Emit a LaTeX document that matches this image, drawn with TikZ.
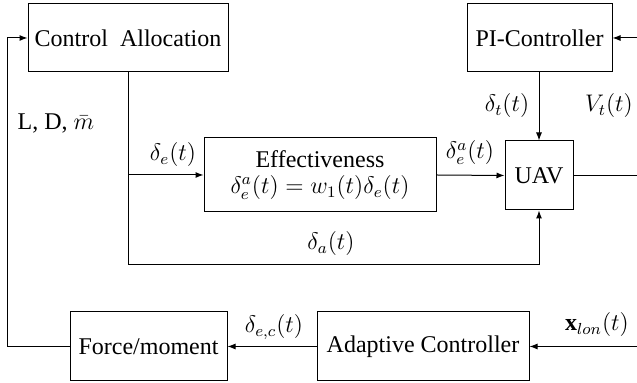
\documentclass[tikz,border=0pt]{standalone}
\usepackage{fontspec}
\setmainfont{Liberation Serif}[Ligatures=TeX]
\usetikzlibrary{arrows.meta}
\begin{document}
\begin{tikzpicture}[x=0.5pt,y=-0.5pt,
  font=\rmfamily\fontsize{12}{14}\selectfont,
  blk/.style={draw,line width=0.5pt,inner sep=0pt,align=center},
  conn/.style={line width=0.5pt},
  arr/.style={conn,-{Latex[length=4pt,width=3pt]}},
  lbl/.style={inner sep=0pt}]
\useasboundingbox (0,0) rectangle (637,383);
\node[blk,minimum width=100pt,minimum height=34pt] (CA) at (128,38) {Control\ \ Allocation};
\node[blk,minimum width=72.5pt,minimum height=34pt] (PI) at (539.5,38) {PI-Controller};
\node[blk,minimum width=116pt,minimum height=37pt] (EF) at (320,175) {Effectiveness\\[-1pt]$\delta_e^a(t)=w_1(t)\delta_e(t)$};
\node[blk,minimum width=34pt,minimum height=34.5pt] (UAV) at (539,175.5) {UAV};
\node[blk,minimum width=78.5pt,minimum height=34.5pt] (FM) at (148.5,346.5) {Force/moment};
\node[blk,minimum width=106pt,minimum height=34.5pt] (AC) at (423,346.5) {Adaptive\ Controller};
\coordinate (J) at (128,265);
\coordinate (B) at (CA.south |- EF.west);
\coordinate (O) at (637,175.5);
\coordinate (IPI) at (637,38);
\coordinate (IAC) at (637,346.5);
\coordinate (L) at (7,346.5);
\draw[arr] (CA.south) -- (J) -| (UAV.south);
\draw[arr] (B) -- (EF.west);
\draw[arr] (EF.east) -- (UAV.west);
\draw[arr] (PI.south -| UAV.north) -- (UAV.north);
\draw[conn] (UAV.east) -- (O);
\draw[arr] (IPI) -- (PI.east);
\draw[arr] (IAC) -- (AC.east);
\draw[arr] (AC.west) -- (FM.east);
\draw[arr] (FM.west) -- (L) |- (CA.west);
\node[lbl] (l1) at (56,123) {L, D, $\bar{m}$};
\node[lbl] (l2) at (173,155) {$\delta_e(t)$};
\node[lbl] (l3) at (470,153) {$\delta_e^a(t)$};
\node[lbl] (l4) at (507,106) {$\delta_t(t)$};
\node[lbl] (l5) at (609,106) {$V_t(t)$};
\node[lbl] (l6) at (331,244) {$\delta_a(t)$};
\node[lbl] (l7) at (274,327) {$\delta_{e,c}(t)$};
\node[lbl] (l8) at (597,325) {$\mathbf{x}_{lon}(t)$};
\end{tikzpicture}
\end{document}
